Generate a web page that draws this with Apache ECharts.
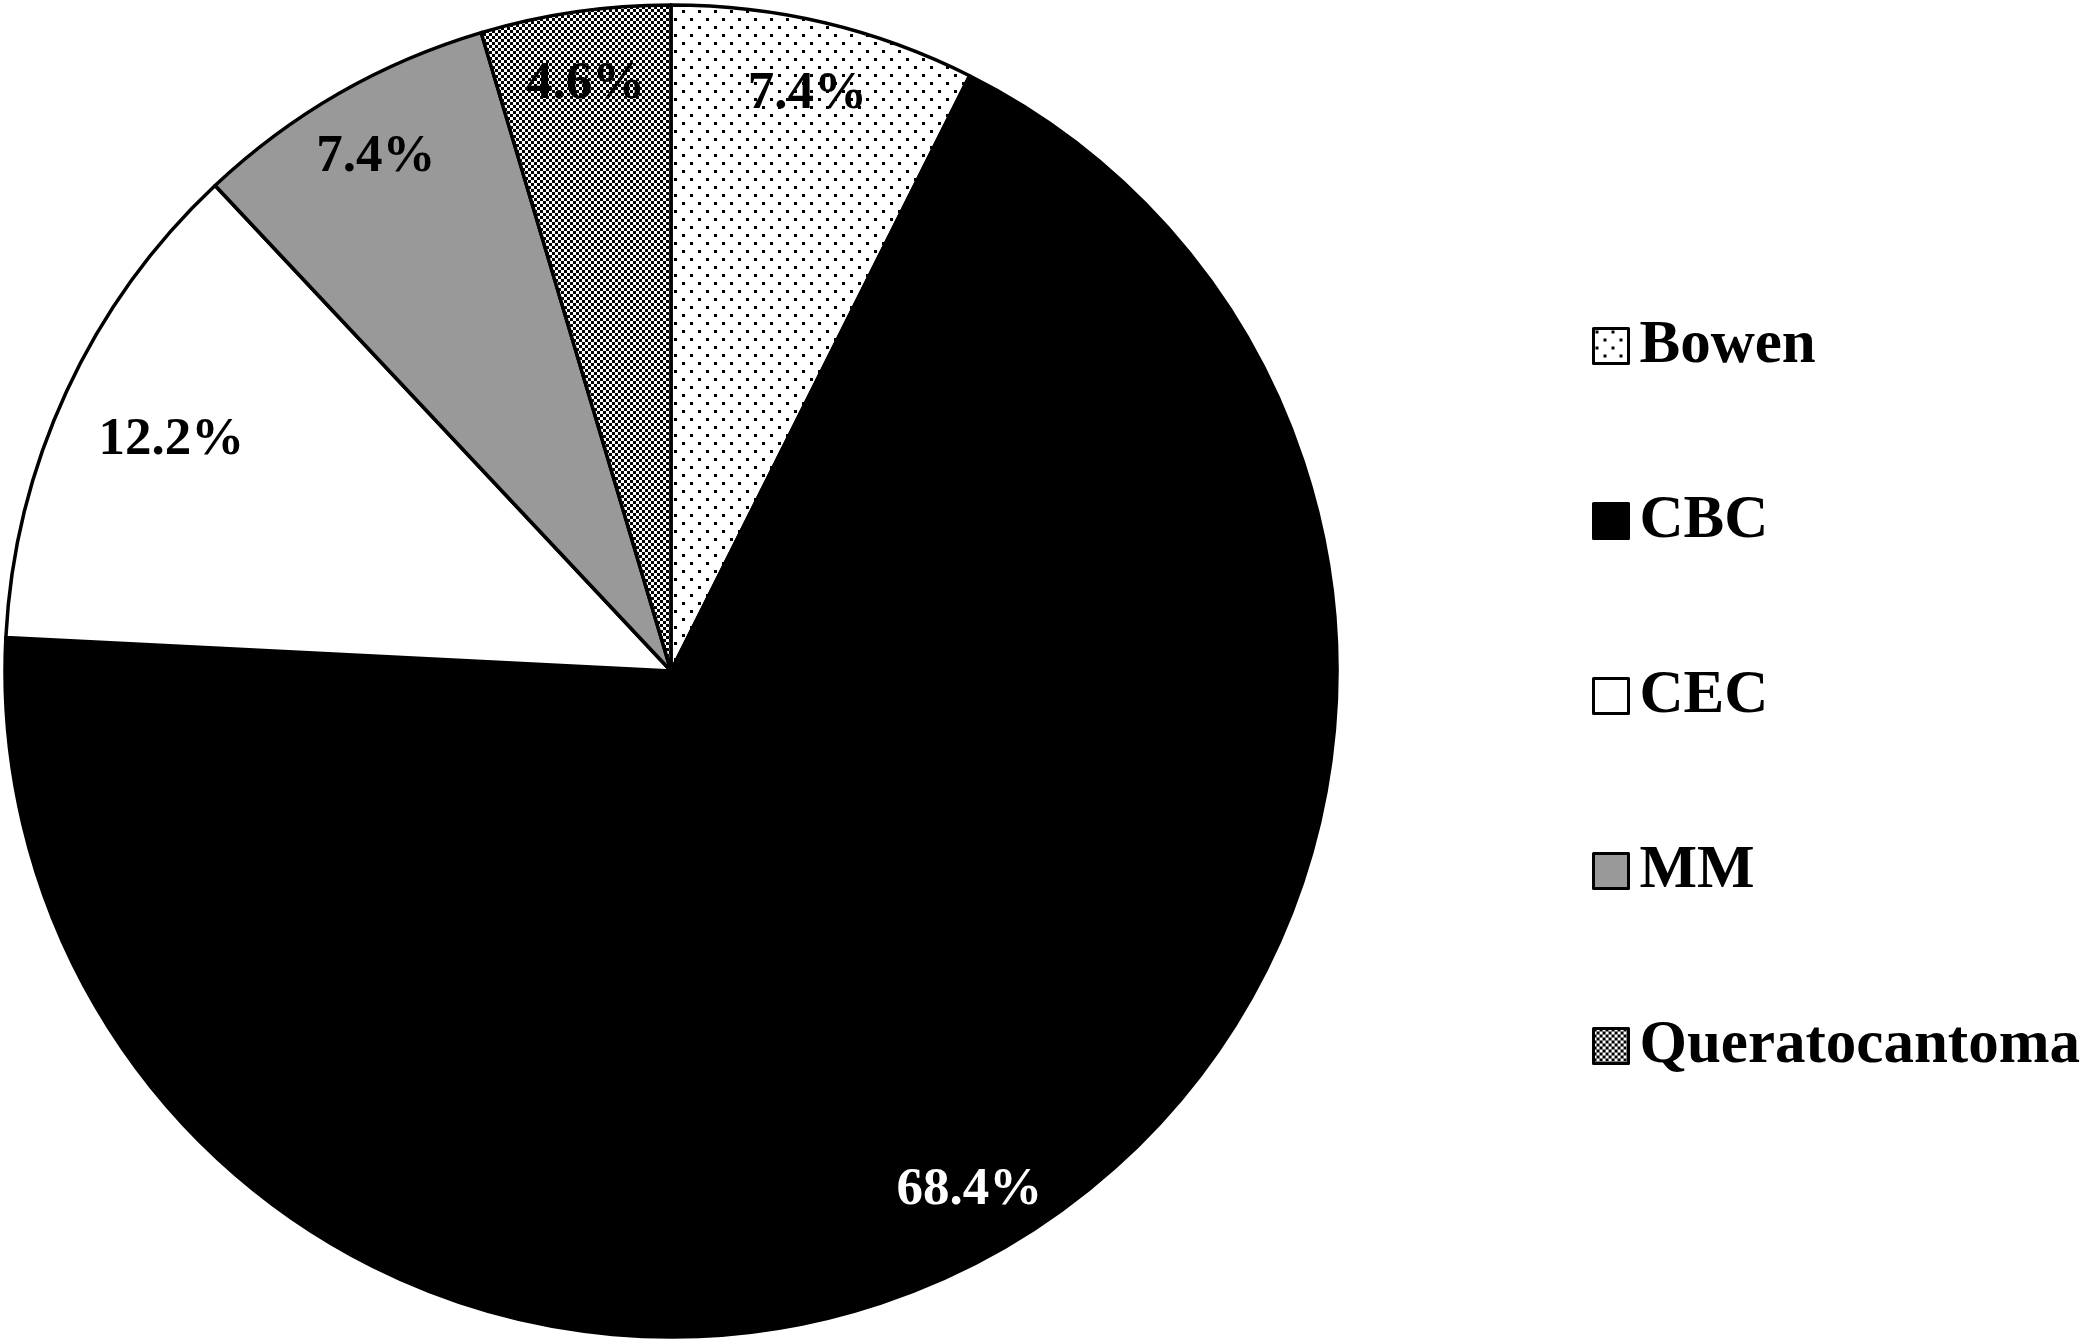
<!DOCTYPE html>
<html>
<head>
<meta charset="utf-8">
<script src="https://cdn.jsdelivr.net/npm/echarts@6/dist/echarts.min.js"></script>
<style>
  html, body { margin: 0; padding: 0; background: #fff; }
  #main { width: 2091px; height: 1341px; }
</style>
</head>
<body>
<div id="main"></div>
<script>
// datos
const categories = ['Bowen', 'CBC', 'CEC', 'MM', 'Queratocantoma']
const values = [7.4, 68.4, 12.2, 7.4, 4.6]
const labelColors = ['#000', '#fff', '#000', '#000', '#000']

// trama de puntos (Bowen)
function dotPattern() {
  const c = document.createElement('canvas')
  c.width = 16
  c.height = 16
  const ctx = c.getContext('2d')
  ctx.fillStyle = '#fff'
  ctx.fillRect(0, 0, 16, 16)
  ctx.fillStyle = '#000'
  ctx.fillRect(2, 2, 3, 3)
  ctx.fillRect(10, 10, 3, 3)
  return c
}

// tablero fino (Queratocantoma)
function checkPattern() {
  const c = document.createElement('canvas')
  c.width = 6
  c.height = 6
  const ctx = c.getContext('2d')
  ctx.fillStyle = '#fff'
  ctx.fillRect(0, 0, 6, 6)
  ctx.fillStyle = '#000'
  ctx.fillRect(0, 0, 3, 3)
  ctx.fillRect(3, 3, 3, 3)
  return c
}

const fills = [
  { image: dotPattern(), repeat: 'repeat' },
  '#000000',
  '#ffffff',
  '#999999',
  { image: checkPattern(), repeat: 'repeat' }
]

const font = 'Liberation Serif'
const center = [671, 671]
const R = 666

const chart = echarts.init(document.getElementById('main'))

chart.setOption({
  animation: false,
  backgroundColor: '#fff',
  legend: {
    orient: 'vertical',
    left: 1587,
    top: 306,
    itemWidth: 35,
    itemHeight: 35,
    itemGap: 105,
    icon: 'rect',
    data: categories,
    itemStyle: { borderColor: '#000', borderWidth: 3 },
    textStyle: {
      fontFamily: font,
      fontWeight: 'bold',
      fontSize: 61,
      color: '#000',
      lineHeight: 70,
      padding: [0, 0, 0, 6]
    }
  },
  series: [
    {
      type: 'pie',
      center: center,
      radius: R,
      startAngle: 90,
      clockwise: true,
      silent: true,
      label: { show: false },
      labelLine: { show: false },
      itemStyle: { borderColor: '#000', borderWidth: 3.5 },
      data: categories.map((name, i) => ({
        name: name,
        value: values[i],
        itemStyle: { color: fills[i] }
      }))
    },
    {
      // capa transparente solo para colocar las etiquetas
      type: 'pie',
      center: center,
      radius: [R * 0.77, R],
      startAngle: 90,
      clockwise: true,
      silent: true,
      labelLine: { show: false },
      itemStyle: { color: 'rgba(0,0,0,0)', borderWidth: 0 },
      label: {
        show: true,
        position: 'inside',
        fontFamily: font,
        fontWeight: 'bold',
        fontSize: 53,
        formatter: (p) => p.value.toFixed(1) + '%'
      },
      data: categories.map((name, i) => ({
        name: name,
        value: values[i],
        label: {
          color: labelColors[i],
          offset: name === 'CEC' ? [38, 18] : name === 'CBC' ? [0, 8] : [0, 0]
        }
      }))
    }
  ]
})
</script>
</body>
</html>
